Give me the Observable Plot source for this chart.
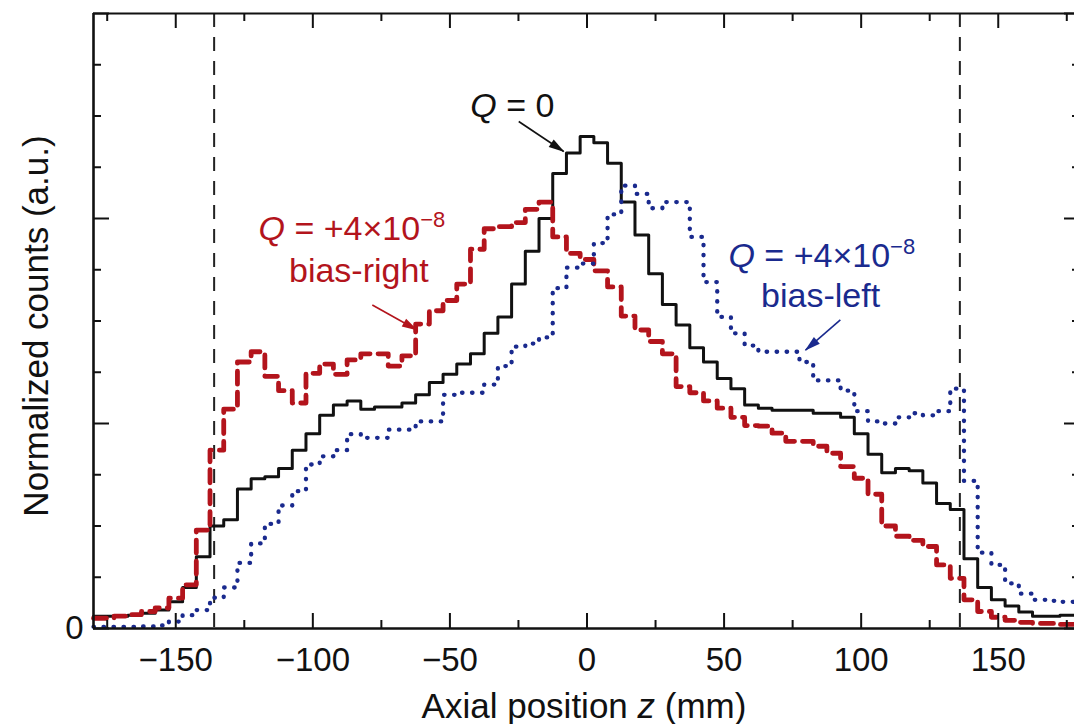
<!DOCTYPE html>
<html><head><meta charset="utf-8">
<script src="https://cdn.jsdelivr.net/npm/d3@7"></script>
<script src="https://cdn.jsdelivr.net/npm/@observablehq/plot@0.6"></script>
<style>
html,body{margin:0;padding:0;background:#fff;overflow:hidden}
</style></head><body><div id="chart"></div>
<script>
// Bin centres (mm)
const zBins = [-180,-175,-170,-165,-160,-155,-150,-145,-140,-135,-130,-125,-120,-115,-110,-105,-100,-95,-90,-85,-80,-75,-70,-65,-60,-55,-50,-45,-40,-35,-30,-25,-20,-15,-10,-5,
  0,5,10,15,20,25,30,35,40,45,50,55,60,65,70,75,80,85,90,95,100,105,110,115,120,125,130,135,140,145,150,155,160,165,170,175,180];
// Q = 0 (black)
const countsQ0 = [0.06,0.06,0.06,0.065,0.075,0.09,0.13,0.20,0.35,0.50,0.53,0.68,0.73,0.74,0.78,0.87,0.95,1.04,1.09,1.11,1.07,1.08,1.08,1.10,1.14,1.20,1.24,1.29,1.34,1.44,1.52,1.68,1.84,2.00,2.22,2.32,
  2.40,2.37,2.27,2.08,1.92,1.73,1.58,1.48,1.37,1.30,1.22,1.17,1.09,1.075,1.065,1.065,1.065,1.05,1.05,1.03,0.95,0.85,0.76,0.78,0.77,0.71,0.61,0.58,0.34,0.20,0.14,0.11,0.08,0.06,0.06,0.065,0.065];
// Q = +4e-8 bias-right (red dashed)
const countsBiasRight = [0.05,0.05,0.06,0.068,0.083,0.10,0.148,0.213,0.48,0.87,1.07,1.30,1.35,1.23,1.16,1.10,1.245,1.29,1.24,1.31,1.34,1.34,1.28,1.33,1.485,1.55,1.60,1.68,1.85,1.95,1.96,1.98,2.045,2.08,1.91,1.83,
  1.80,1.745,1.666,1.524,1.456,1.40,1.34,1.18,1.15,1.11,1.075,1.03,0.99,0.987,0.953,0.913,0.913,0.889,0.855,0.79,0.733,0.655,0.50,0.45,0.43,0.40,0.31,0.245,0.14,0.083,0.055,0.04,0.03,0.025,0.025,0.02,0.02];
// Q = +4e-8 bias-left (blue dotted)
const countsBiasLeft = [0.008,0.008,0.008,0.008,0.01,0.015,0.034,0.065,0.09,0.15,0.20,0.32,0.415,0.51,0.60,0.67,0.80,0.84,0.87,0.948,0.93,0.93,0.97,0.97,1.01,1.01,1.14,1.15,1.15,1.19,1.28,1.375,1.39,1.42,1.66,1.76,
  1.78,1.88,2.02,2.16,2.12,2.05,2.08,2.08,1.91,1.69,1.52,1.44,1.38,1.35,1.35,1.35,1.30,1.21,1.21,1.16,1.06,1.01,1.00,1.03,1.05,1.04,1.06,1.17,0.72,0.37,0.31,0.22,0.17,0.14,0.135,0.13,0.12];

const xMajorTicks = [-150,-100,-50,0,50,100,150];
const xTickLabels = ["−150","−100","−50","0","50","100","150"];
const xMinorTicks = [-175,-125,-75,-25,25,75,125,175];
const yMajorTicks = [0,1,2,3];
const yMinorTicks = [0.25,0.5,0.75,1.25,1.5,1.75,2.25,2.5,2.75];
const yTickLabels = ["0"];
const boundaries = [-136, 136];

const RED = "#b3141c", BLUE = "#1a2a8e", BLACK = "#111";
const FONT = "'Liberation Sans', Arial, Helvetica, sans-serif";
const W = 1074, H = 724, ML = 93, MR = -6, MT = 13, MB = 96;
const xDom = [-180, 180], yDom = [0, 3];
const kx = (xDom[1]-xDom[0]) / (W - MR - ML);   // data units per px (x)
const ky = (yDom[1]-yDom[0]) / (H - MB - MT);   // data units per px (y)

const rows = vals => zBins.map((z, i) => ({z, v: vals[i]}));
const frameStyle = {stroke: BLACK, strokeWidth: 2.6};

const chart = Plot.plot({
  width: W, height: H,
  marginLeft: ML, marginRight: MR, marginTop: MT, marginBottom: MB,
  x: {domain: xDom, axis: null},
  y: {domain: yDom, axis: null},
  style: {fontFamily: FONT, background: "white", color: BLACK},
  marks: [
    Plot.ruleX(boundaries, {stroke: "#222", strokeWidth: 2, strokeDasharray: "14 10"}),
    Plot.line(rows(countsQ0), {x: "z", y: "v", curve: "step", stroke: BLACK, strokeWidth: 3}),
    Plot.line(rows(countsBiasRight), {x: "z", y: "v", curve: "step", stroke: RED, strokeWidth: 4.8, strokeDasharray: "13 8"}),
    Plot.line(rows(countsBiasLeft), {x: "z", y: "v", curve: "step", stroke: BLUE, strokeWidth: 4.3, strokeDasharray: "0.5 9.5", strokeLinecap: "round"}),
    // frame
    Plot.ruleY([yDom[0]], frameStyle),
    Plot.ruleY([yDom[1]], {...frameStyle, strokeWidth: 2.2}),
    Plot.ruleX([xDom[0]], frameStyle),
    Plot.ruleX([xDom[1]], frameStyle),
    // x ticks bottom / top
    Plot.ruleX(xMajorTicks, {x: d => d, y1: yDom[0], y2: yDom[0] + 15*ky, ...frameStyle, strokeWidth: 2}),
    Plot.ruleX(xMinorTicks, {x: d => d, y1: yDom[0], y2: yDom[0] + 8*ky, ...frameStyle, strokeWidth: 2}),
    Plot.ruleX(xMajorTicks, {x: d => d, y1: yDom[1], y2: yDom[1] - 15*ky, ...frameStyle, strokeWidth: 2}),
    Plot.ruleX(xMinorTicks, {x: d => d, y1: yDom[1], y2: yDom[1] - 8*ky, ...frameStyle, strokeWidth: 2}),
    // y ticks left / right
    Plot.ruleY(yMajorTicks, {y: d => d, x1: xDom[0], x2: xDom[0] + 16*kx, ...frameStyle, strokeWidth: 2}),
    Plot.ruleY(yMinorTicks, {y: d => d, x1: xDom[0], x2: xDom[0] + 8*kx, ...frameStyle, strokeWidth: 2}),
    Plot.ruleY(yMajorTicks, {y: d => d, x1: xDom[1], x2: xDom[1] - 16*kx, ...frameStyle, strokeWidth: 2}),
    Plot.ruleY(yMinorTicks, {y: d => d, x1: xDom[1], x2: xDom[1] - 8*kx, ...frameStyle, strokeWidth: 2}),
    // tick labels
    Plot.text(xMajorTicks, {x: d => d, y: yDom[0], text: (d, i) => xTickLabels[i], dy: 42, lineAnchor: "bottom", fontSize: 33, fill: BLACK}),
    Plot.text(yTickLabels, {x: xDom[0], y: yDom[0], text: d => d, dx: -19, lineAnchor: "middle", fontSize: 33, fill: BLACK}),
    // axis titles
    Plot.text(["Axial position z (mm)"], {frameAnchor: "bottom", textAnchor: "middle", dx: -3, dy: 89, lineAnchor: "bottom", fontSize: 35, fill: BLACK}),
    Plot.text(["Normalized counts (a.u.)"], {frameAnchor: "left", textAnchor: "middle", dx: -46, dy: 5, rotate: -90, lineAnchor: "bottom", fontSize: 35, fill: BLACK}),
    // annotations
    Plot.text(["Q = 0"], {x: -27.2, y: 2.496, lineAnchor: "bottom", fontSize: 34, fill: BLACK}),
    Plot.link([0], {x1: -24.9, y1: 2.473, x2: -8.5, y2: 2.327, stroke: BLACK, strokeWidth: 1.6, markerEnd: "arrow"}),
    Plot.text(["Q = +4×10−8"], {x: -119.8, y: 1.895, textAnchor: "start", lineAnchor: "bottom", fontSize: 34, fill: RED}),
    Plot.text(["bias-right"], {x: -83.2, y: 1.692, lineAnchor: "bottom", fontSize: 34, fill: RED}),
    Plot.link([0], {x1: -78.3, y1: 1.578, x2: -62.0, y2: 1.456, stroke: RED, strokeWidth: 1.6, markerEnd: "arrow"}),
    Plot.text(["Q = +4×10−8"], {x: 51.6, y: 1.764, textAnchor: "start", lineAnchor: "bottom", fontSize: 34, fill: BLUE}),
    Plot.text(["bias-left"], {x: 85.2, y: 1.568, lineAnchor: "bottom", fontSize: 34, fill: BLUE}),
    Plot.link([0], {x1: 92.4, y1: 1.505, x2: 79.7, y2: 1.358, stroke: BLUE, strokeWidth: 1.6, markerEnd: "arrow"})
  ]
});
document.getElementById("chart").appendChild(chart);

// rich text: italic symbols and superscripts
const RICH = {
  "Q = 0": [{t: "Q", it: true}, {t: " = 0"}],
  "Q = +4×10−8": [{t: "Q", it: true}, {t: " = +4×10"}, {t: "−8", sup: true}],
  "Axial position z (mm)": [{t: "Axial position "}, {t: "z", it: true}, {t: " (mm)"}]
};
d3.select(chart).selectAll("text").each(function() {
  const parts = RICH[this.textContent];
  if (!parts) return;
  this.textContent = "";
  for (const p of parts) {
    const ts = document.createElementNS("http://www.w3.org/2000/svg", "tspan");
    ts.textContent = p.t;
    if (p.it) ts.setAttribute("font-style", "italic");
    if (p.sup) { ts.setAttribute("dy", "-13"); ts.setAttribute("font-size", "22"); }
    this.appendChild(ts);
  }
});
// filled arrow heads
d3.select(chart).selectAll("marker").each(function() {
  const c = this.getAttribute("stroke");
  d3.select(this).attr("viewBox", "-16 -6 18 12").attr("markerUnits", "userSpaceOnUse")
    .attr("markerWidth", 18).attr("markerHeight", 12).attr("refX", 0).attr("refY", 0)
    .attr("fill", c).attr("stroke", "none");
  d3.select(this).selectAll("path").attr("d", "M-15,-4.5L1,0L-15,4.5Z");
});
</script></body></html>
